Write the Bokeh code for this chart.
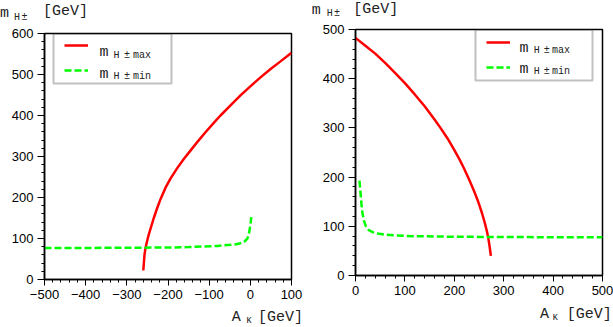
from bokeh.plotting import figure
from bokeh.layouts import row, column
from bokeh.models import (Label, BoxAnnotation, Legend, LegendItem, Div,
                          SingleIntervalTicker, Range1d)
from bokeh.embed import file_html
from bokeh.resources import INLINE

# ---------------- data ----------------
left_max_x = [-260, -257.1, -254.7, -250, -246.6, -240, -234.5, -226, -218.2, -206,
              -194, -178, -161.6, -145, -129, -110, -88.8, -72.5, -50, -23.9,
              0, 24.7, 50, 73.3, 100]
left_max_y = [22, 60, 76, 97, 110, 132, 150, 175, 196, 224,
              246, 271, 294, 315, 335, 358, 382, 400, 423, 449,
              471, 493, 514, 532, 553]
left_min_x = [-500, -400, -300, -200, -150, -114, -80, -48, -35, -24, -15,
              -7.6, -3.6, -1.1, 1, 2.2]
left_min_y = [77, 77, 77.5, 78, 79, 80.5, 82, 84.6, 86, 88.5, 92,
              99, 110, 126, 140, 152]

right_max_x = [0, 20, 40, 60, 80, 100, 120, 140, 160, 172, 186, 199, 210, 219,
               230, 239.5, 248, 256, 262, 266, 269, 271.5, 274]
right_max_y = [483, 467, 451, 432, 412, 391, 368, 344, 317, 300, 279, 257, 237, 219,
               195, 173, 151, 127, 106, 90, 75, 59, 40]
right_min_x = [8, 10, 12, 14, 17, 21, 27, 35, 45, 60, 80, 115, 180, 250, 350, 500]
right_min_y = [193, 170, 146, 127, 112, 100, 92, 88, 85.5, 83, 81.5, 80, 79,
               78.5, 78, 77.5]

left_xrange = (-500, 100)
left_yrange = (0, 600)
right_xrange = (0, 500)
right_yrange = (0, 500)
tick_step = 100

MONO = "Liberation Mono"
SANS = "Liberation Sans"
TXT = "#222222"


def make_fig(xr, yr, bl, br, bt, bb):
    p = figure(x_range=Range1d(*xr), y_range=Range1d(*yr),
               frame_width=247, frame_height=246,
               min_border_left=bl, min_border_right=br,
               min_border_top=bt, min_border_bottom=bb,
               output_backend="svg", toolbar_location=None, margin=0)
    p.xgrid.visible = False
    p.ygrid.visible = False
    p.outline_line_color = "black"
    p.outline_line_width = 1.5
    p.background_fill_color = "white"
    p.border_fill_color = "white"
    for ax in (p.xaxis[0], p.yaxis[0]):
        ax.ticker = SingleIntervalTicker(interval=tick_step, num_minor_ticks=5)
        ax.major_tick_out = 6
        ax.major_tick_in = 0
        ax.minor_tick_out = 3
        ax.minor_tick_in = 0
        ax.axis_line_width = 1.5
        ax.axis_line_color = "black"
        ax.major_tick_line_color = "black"
        ax.minor_tick_line_color = "black"
        ax.major_label_text_font = SANS
        ax.major_label_text_font_size = "13px"
        ax.major_label_text_color = "black"
        ax.major_label_standoff = 4
    p.yaxis[0].major_tick_out = 7
    return p


def add_text(p, x, y, s, size):
    p.add_layout(Label(x=x, y=y, text=s, text_font=MONO,
                       text_font_size=size, text_color=TXT,
                       text_baseline="alphabetic", text_align="left"))


def add_legend(p, r1, r2, loc):
    leg = Legend(items=[LegendItem(label=" ", renderers=[r1]),
                        LegendItem(label=" ", renderers=[r2])],
                 location=loc, glyph_width=24, glyph_height=20,
                 label_height=20, label_width=0, label_standoff=0,
                 spacing=5, padding=0, margin=0,
                 border_line_alpha=0, background_fill_alpha=0,
                 label_text_font_size="1px")
    p.add_layout(leg)


def text_div(width, height, items):
    # items: (x, baseline, text, size_px) relative to the div's top-left corner
    spans = []
    for x, base, s, size in items:
        top = base - 0.766 * size
        spans.append(
            f'<span style="position:absolute;left:{x:.1f}px;top:{top:.1f}px;'
            f'font-size:{size}px;line-height:{size}px;white-space:pre">{s}</span>')
    html = (f'<div style="position:relative;width:{width}px;height:{height}px;'
            f"font-family:'{MONO}';color:{TXT}\">" + "".join(spans) + "</div>")
    return Div(text=html, width=width, height=height, margin=0)


# ---------------- left panel ----------------
pl = make_fig(left_xrange, left_yrange, 44, 15, 7, 26)   # frame at x 44..291, y 33..279


def Lx(px):
    return left_xrange[0] + (px - 44) * (left_xrange[1] - left_xrange[0]) / 247


def Ly(py):
    return (279 - py) * (left_yrange[1] - left_yrange[0]) / 246


rl1 = pl.line(left_max_x, left_max_y, line_color="#ff0000", line_width=2.5)
rl2 = pl.line(left_min_x, left_min_y, line_color="#00ff00", line_width=2.5,
              line_dash="7 3")
pl.add_layout(BoxAnnotation(left=Lx(53), right=Lx(171), top=Ly(33), bottom=Ly(83),
                            fill_alpha=0, line_color="#333333", line_width=2))
add_legend(pl, rl1, rl2, (20, 199))

for bl_main, bl_sub, tag in ((52.3, 55, "max"), (73.5, 75.5, "min")):
    add_text(pl, Lx(99), Ly(bl_main), "m", "15px")
    add_text(pl, Lx(113), Ly(bl_sub), "H", "10px")
    add_text(pl, Lx(123.5), Ly(bl_sub), "±", "10px")
    add_text(pl, Lx(132.5), Ly(bl_sub), tag, "10px")

left_top = text_div(306, 26, [(0, 17, "m", 15), (14, 20.5, "H", 10),
                              (21.5, 20.5, "±", 10), (43, 15.5, "[GeV]", 15)])
left_bottom = text_div(306, 22, [(231.7, 16.7, "A", 15), (246, 19, "κ", 10),
                                 (258, 16.5, "[GeV]", 15)])

# ---------------- right panel ----------------
pr = make_fig(right_xrange, right_yrange, 49, 11, 7, 26)  # frame at x 355..602, y 29..275


def Rx(px):
    return right_xrange[0] + (px - 355) * (right_xrange[1] - right_xrange[0]) / 247


def Ry(py):
    return (275 - py) * (right_yrange[1] - right_yrange[0]) / 246


rr1 = pr.line(right_max_x, right_max_y, line_color="#ff0000", line_width=2.5)
rr2 = pr.line(right_min_x, right_min_y, line_color="#00ff00", line_width=2.5,
              line_dash="7 3")
pr.add_layout(BoxAnnotation(left=Rx(475), right=Rx(592), top=Ry(29), bottom=Ry(80),
                            fill_alpha=0, line_color="#333333", line_width=2))
add_legend(pr, rr1, rr2, (131, 198))

for bl_main, bl_sub, tag in ((48.3, 50, "max"), (68.5, 70.5, "min")):
    add_text(pr, Rx(519), Ry(bl_main), "m", "15px")
    add_text(pr, Rx(533.3), Ry(bl_sub), "H", "10px")
    add_text(pr, Rx(543.3), Ry(bl_sub), "±", "10px")
    add_text(pr, Rx(551.5), Ry(bl_sub), tag, "10px")

right_top = text_div(307, 22, [(5.7, 14, "m", 15), (20.7, 16.5, "H", 10),
                               (28, 16.5, "±", 10), (47.3, 13.5, "[GeV]", 15)])
right_bottom = text_div(307, 26, [(234, 17, "A", 15), (246.3, 19.7, "κ", 10),
                                  (260.7, 17, "[GeV]", 15)])

layout = row(column(left_top, pl, left_bottom, spacing=0),
             column(right_top, pr, right_bottom, spacing=0), spacing=0)
open("out.html", "w").write(file_html(layout, INLINE))
